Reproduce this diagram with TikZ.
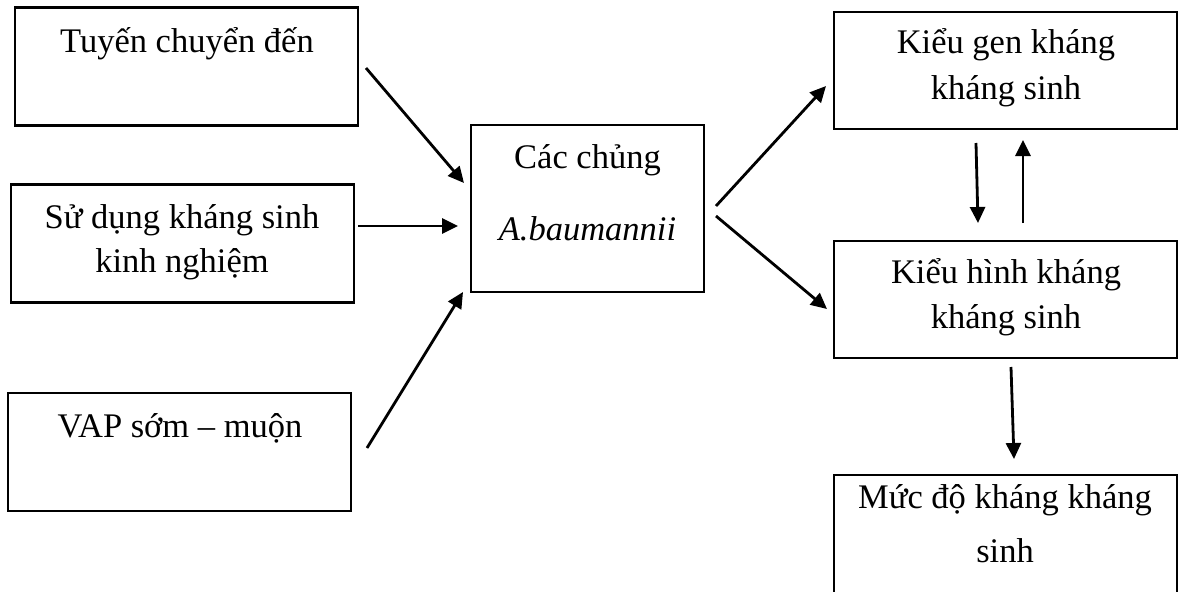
\documentclass[tikz,border=0pt]{standalone}
\usepackage{fontspec}
\setmainfont{Liberation Serif}
\usetikzlibrary{arrows.meta}
\begin{document}
\begin{tikzpicture}[x=1pt,y=-1pt,
  box/.style={draw,line width=2.2pt,inner sep=0pt,outer sep=0pt,rectangle},
  txt/.style={anchor=base,inner sep=0pt,font=\fontsize{34.5}{44}\selectfont},
  arr/.style={line width=2.8pt,-{Triangle[length=16pt,width=15pt]}}]
\useasboundingbox (0,0) rectangle (1179,592);
\clip (0,0) rectangle (1179,592);
% left boxes
\node[box,minimum width=343,minimum height=118] (b1) at (186.5,66.5) {};
\node[box,minimum width=343,minimum height=118] (b2) at (182.5,243.5) {};
\node[box,minimum width=343,minimum height=118] (b3) at (179.5,452) {};
% center
\node[box,minimum width=233,minimum height=167] (c) at (587.5,208.5) {};
% right boxes
\node[box,minimum width=343,minimum height=117] (r1) at (1005.5,70.5) {};
\node[box,minimum width=343,minimum height=117] (r2) at (1005.5,299.5) {};
\node[box,minimum width=343,minimum height=130] (r3) at (1005.5,540) {};
% texts
\node[txt] (t1) at (187,52) {Tuyến chuyển đến};
\node[txt] (t2a) at (182,228) {Sử dụng kháng sinh};
\node[txt] (t2b) at (182,272) {kinh nghiệm};
\node[txt] (t3) at (180,437) {VAP sớm – muộn};
\node[txt] (tc1) at (587.5,168) {Các chủng};
\node[txt] (tc2) at (587.5,240) {\itshape A.baumannii};
\node[txt] (tr1a) at (1006,53) {Kiểu gen kháng};
\node[txt] (tr1b) at (1006,99) {kháng sinh};
\node[txt] (tr2a) at (1006,283) {Kiểu hình kháng};
\node[txt] (tr2b) at (1006,328) {kháng sinh};
\node[txt] (tr3a) at (1005,508) {Mức độ kháng kháng};
\node[txt] (tr3b) at (1005,562) {sinh};
% arrow end points
\coordinate (a1s) at (366,68);  \coordinate (a1e) at (464,183);
\coordinate (a2s) at (358,226); \coordinate (a2e) at (458,226);
\coordinate (a3s) at (367,448); \coordinate (a3e) at (463,292);
\coordinate (a4s) at (716,206); \coordinate (a4e) at (826,86);
\coordinate (a5s) at (716,216); \coordinate (a5e) at (827,309);
\coordinate (a6s) at (976,143); \coordinate (a6e) at (978,223);
\coordinate (a7s) at (1023,223); \coordinate (a7e) at (1023,140);
\coordinate (a8s) at (1011,367); \coordinate (a8e) at (1014,459);
\draw[arr] (a1s) -- (a1e);
\draw[arr] (a2s) -- (a2e);
\draw[arr] (a3s) -- (a3e);
\draw[arr] (a4s) -- (a4e);
\draw[arr] (a5s) -- (a5e);
\draw[arr] (a6s) -- (a6e);
\draw[arr] (a7s) -- (a7e);
\draw[arr] (a8s) -- (a8e);
\end{tikzpicture}
\end{document}
